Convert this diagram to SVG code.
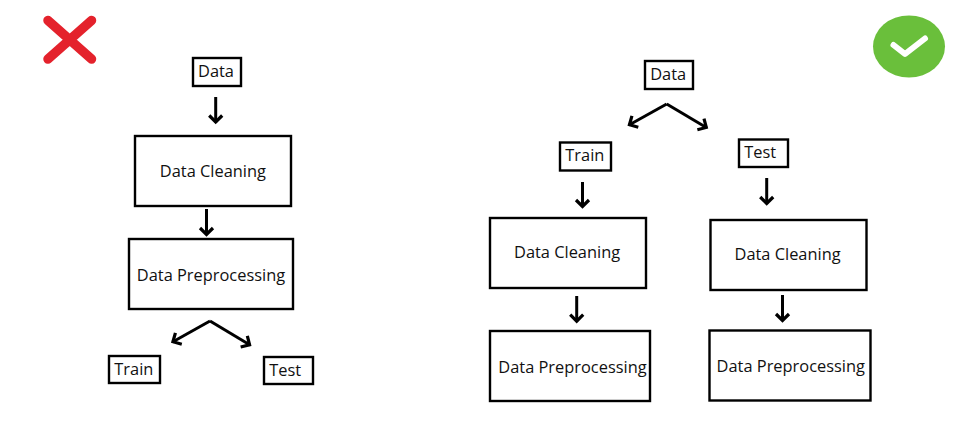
<svg xmlns="http://www.w3.org/2000/svg" width="970" height="432" viewBox="0 0 970 432">
<style>
.box{fill:#fff;stroke:#000;stroke-width:2.4}
text{font-family:"Open Sans","Noto Sans",sans-serif;font-size:16.4px;fill:#111}
.c{fill:none;stroke:#000;stroke-width:3;marker-end:url(#a)}
</style>
<defs>
<marker id="a" markerUnits="userSpaceOnUse" markerWidth="16" markerHeight="18" refX="10" refY="8" orient="auto" overflow="visible">
<path d="M3,1.5 L9.5,8 L3,14.5" fill="none" stroke="#000" stroke-width="3.2"/>
</marker>
</defs>
<rect width="970" height="432" fill="#fff"/>
<g id="cross"><path d="M48,20.5 L91.5,59 M91.5,20.5 L48,59" fill="none" stroke="#e4222c" stroke-width="9.5" stroke-linecap="round"/></g>
<g id="check"><ellipse cx="909" cy="46.5" rx="36" ry="31" fill="#6abf3b"/><path d="M893.5,45 L905,54 L925,38.5" fill="none" stroke="#fff" stroke-width="6" stroke-linecap="round" stroke-linejoin="round"/></g>
<g id="connectors">
<path class="c" d="M215.7,97 V122.5"/>
<path class="c" d="M206.5,209 V235"/>
<path class="c" d="M210,321 L172.5,342"/>
<path class="c" d="M210,321 L250,345"/>
<path class="c" d="M666.7,104 L629,125"/>
<path class="c" d="M666.7,104 L706.7,127.7"/>
<path class="c" d="M582.5,182 V207"/>
<path class="c" d="M766.7,178 V204"/>
<path class="c" d="M576.7,296 V321.7"/>
<path class="c" d="M782.5,295 V321"/>
</g>
<g id="l-data"><rect class="box" x="193" y="58" width="48" height="28"/><text x="198" y="77">Data</text></g>
<g id="l-clean"><rect class="box" x="135" y="136" width="156" height="70"/><text x="159.8" y="176.7">Data Cleaning</text></g>
<g id="l-prep"><rect class="box" x="129" y="239" width="164" height="70"/><text x="136.8" y="281.3">Data Preprocessing</text></g>
<g id="l-train"><rect class="box" x="109" y="356" width="51" height="27"/><text x="114.3" y="374.7">Train</text></g>
<g id="l-test"><rect class="box" x="264" y="357" width="49" height="27"/><text x="269.3" y="375.7">Test</text></g>
<g id="r-data"><rect class="box" x="645" y="61" width="48" height="28"/><text x="650.2" y="80">Data</text></g>
<g id="r-train"><rect class="box" x="560" y="142.5" width="51" height="28"/><text x="565.3" y="161">Train</text></g>
<g id="r-test"><rect class="box" x="739" y="139.5" width="49" height="27.5"/><text x="744.3" y="158">Test</text></g>
<g id="r-clean1"><rect class="box" x="490" y="218" width="156" height="70"/><text x="514" y="258.3">Data Cleaning</text></g>
<g id="r-prep1"><rect class="box" x="490" y="331" width="160" height="70"/><text x="498.3" y="373.3">Data Preprocessing</text></g>
<g id="r-clean2"><rect class="box" x="710.5" y="220" width="156" height="70"/><text x="734.5" y="260">Data Cleaning</text></g>
<g id="r-prep2"><rect class="box" x="709.5" y="330.5" width="161" height="70"/><text x="716.6" y="372.3">Data Preprocessing</text></g>
</svg>
